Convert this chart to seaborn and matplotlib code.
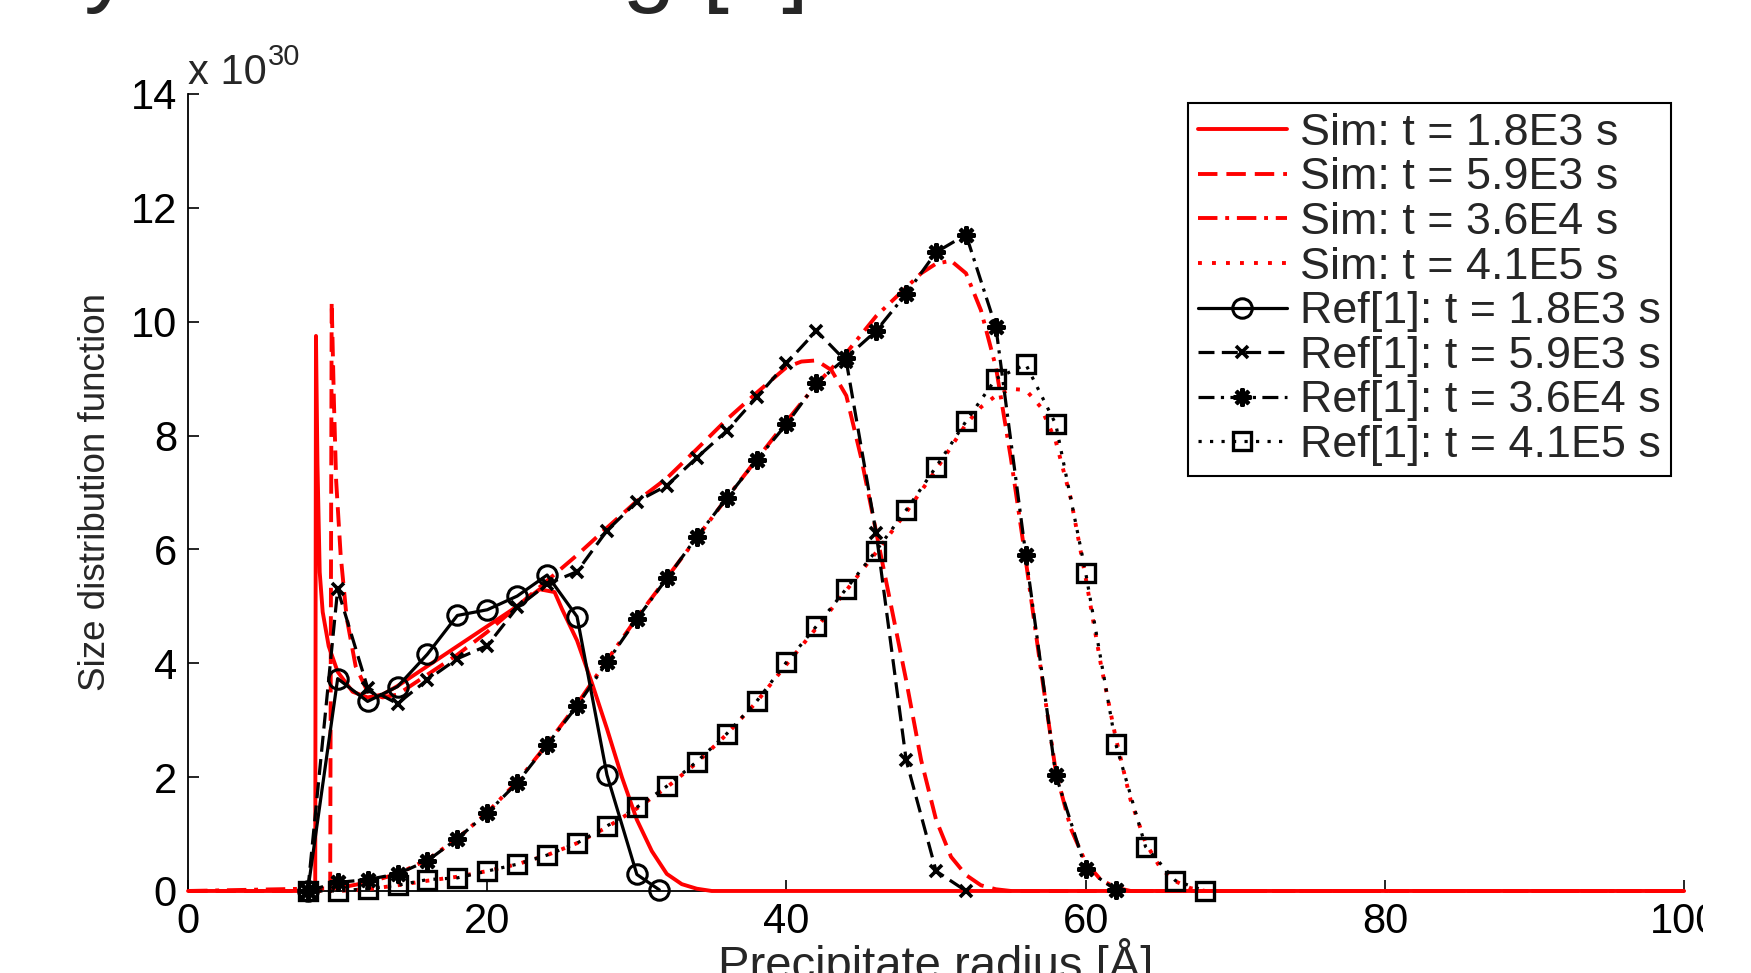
import numpy as np
import pandas as pd
import matplotlib
matplotlib.use("Agg")
import matplotlib.pyplot as plt
import seaborn as sns
from matplotlib.transforms import Bbox

# --- data (y in units of 1e30) ---
sim_x_18 = [0, 8.5, 8.55, 8.65, 8.8, 9.0, 9.4, 10, 11, 12, 13, 14, 16, 18, 20, 22, 23.5, 24.5, 25, 26,
            27, 28, 29, 30, 31, 32, 33, 34, 35, 100]
sim_y_18 = [0, 0, 9.75, 7.5, 5.6, 4.9, 4.3, 3.85, 3.5, 3.4, 3.45, 3.6, 3.95, 4.3, 4.65, 5.0, 5.3, 5.25, 4.95, 4.4,
            3.65, 2.85, 2.0, 1.25, 0.7, 0.3, 0.12, 0.04, 0, 0]

sim_x_59 = [0, 9.5, 9.6, 9.75, 9.9, 10.2, 10.6, 11.2, 12, 13, 14, 16, 18, 20, 22, 24, 26, 28, 30, 32,
            34, 36, 38, 40, 41, 42, 43, 44, 45, 46, 47, 48, 49, 50, 51, 52, 53, 54, 55, 100]
sim_y_59 = [0, 0, 10.35, 8.6, 7.2, 5.9, 4.8, 3.95, 3.5, 3.4, 3.45, 3.8, 4.15, 4.55, 5.0, 5.45, 5.9, 6.38, 6.85, 7.25,
            7.76, 8.28, 8.75, 9.2, 9.3, 9.32, 9.15, 8.7, 7.6, 6.3, 5.0, 3.7, 2.3, 1.25, 0.6, 0.28, 0.1, 0.03, 0, 0]

sim_x_36 = [0, 10, 12, 14, 16, 18, 20, 22, 24, 26, 28, 30, 32, 34, 36, 38, 40, 42, 44, 46,
            48, 49, 50, 51, 52, 53, 54, 55, 56, 57, 58, 59, 60, 61, 62, 63, 100]
sim_y_36 = [0, 0.05, 0.15, 0.3, 0.55, 0.92, 1.38, 1.92, 2.58, 3.28, 4.05, 4.8, 5.5, 6.2, 6.9, 7.58, 8.25, 8.9, 9.45, 10.1,
            10.6, 10.85, 11.02, 11.07, 10.85, 10.2, 9.2, 7.6, 5.8, 3.9, 2.1, 1.1, 0.5, 0.2, 0.06, 0, 0]

sim_x_41 = [0, 10, 12, 14, 16, 18, 20, 22, 24, 26, 28, 30, 32, 34, 36, 38, 40, 42, 44, 46,
            48, 50, 52, 53, 54, 55, 56, 57, 58, 59, 60, 61, 62, 63, 64, 65, 66, 67, 68, 100]
sim_y_41 = [0, 0, 0.03, 0.1, 0.18, 0.25, 0.35, 0.47, 0.63, 0.84, 1.12, 1.45, 1.82, 2.25, 2.75, 3.32, 3.98, 4.62, 5.28, 5.95,
            6.65, 7.4, 8.2, 8.5, 8.7, 8.82, 8.8, 8.5, 7.9, 6.9, 5.5, 4.0, 2.7, 1.6, 0.85, 0.4, 0.17, 0.05, 0, 0]

ref_x_18 = [8, 10, 12, 14, 16, 18, 20, 22, 24, 26, 28, 30, 31.5]
ref_y_18 = [0, 3.73, 3.33, 3.59, 4.16, 4.84, 4.94, 5.18, 5.55, 4.82, 2.04, 0.29, 0.02]

ref_x_59 = [8, 10, 12, 14, 16, 18, 20, 22, 24, 26, 28, 30, 32, 34, 36, 38, 40, 42, 44, 46, 48, 50, 52]
ref_y_59 = [0, 5.30, 3.57, 3.29, 3.71, 4.08, 4.31, 4.98, 5.39, 5.61, 6.33, 6.84, 7.12, 7.61, 8.08, 8.67,
            9.27, 9.84, 9.30, 6.28, 2.30, 0.35, 0.0]

ref_x_36 = [8, 10, 12, 14, 16, 18, 20, 22, 24, 26, 28, 30, 32, 34, 36, 38, 40, 42, 44, 46,
            48, 50, 52, 54, 56, 58, 60, 62]
ref_y_36 = [0, 0.15, 0.2, 0.3, 0.53, 0.92, 1.37, 1.9, 2.57, 3.25, 4.02, 4.78, 5.49, 6.22, 6.9, 7.57,
            8.2, 8.92, 9.37, 9.84, 10.49, 11.22, 11.53, 9.9, 5.9, 2.04, 0.39, 0.02]

ref_x_41 = [8, 10, 12, 14, 16, 18, 20, 22, 24, 26, 28, 30, 32, 34, 36, 38, 40, 42, 44, 46,
            48, 50, 52, 54, 56, 58, 60, 62, 64, 66, 68]
ref_y_41 = [0, 0, 0.04, 0.1, 0.2, 0.23, 0.35, 0.47, 0.63, 0.84, 1.14, 1.47, 1.84, 2.27, 2.76, 3.33,
            4.02, 4.65, 5.31, 5.98, 6.69, 7.45, 8.25, 9.0, 9.25, 8.2, 5.59, 2.59, 0.78, 0.18, 0]

times = ["1.8E3", "5.9E3", "3.6E4", "4.1E5"]
x_ticks = [0, 20, 40, 60, 80, 100]
y_ticks = [0, 2, 4, 6, 8, 10, 12, 14]

sns.set_theme(style="white")
plt.rcParams["font.family"] = ["Liberation Sans", "DejaVu Sans"]

fig = plt.figure(figsize=(17.51, 9.73), dpi=100)
ax = fig.add_axes([0.1074, 0.0843, 0.8544, 0.8191])

sim_series = [(sim_x_18, sim_y_18), (sim_x_59, sim_y_59), (sim_x_36, sim_y_36), (sim_x_41, sim_y_41)]
ref_series = [(ref_x_18, ref_y_18), (ref_x_59, ref_y_59), (ref_x_36, ref_y_36), (ref_x_41, ref_y_41)]

sim_styles = ["-", (0, (5, 2.3)), (0, (5, 2, 1, 2)), (0, (1, 2.6))]
ref_styles = [
    dict(linestyle="-", marker="o", markersize=14, markerfacecolor="none", markeredgewidth=2.2),
    dict(linestyle=(0, (5, 2.3)), marker="x", markersize=8, markeredgewidth=2.6),
    dict(linestyle=(0, (5, 2, 1, 2)), marker=(8, 2, 0), markersize=13, markeredgewidth=2.9),
    dict(linestyle=(0, (1, 2.6)), marker="s", markersize=13, markerfacecolor="none", markeredgewidth=2.4),
]

for (xs, ys), t, ls in zip(sim_series, times, sim_styles):
    df = pd.DataFrame({"r": xs, "f": ys})
    sns.lineplot(data=df, x="r", y="f", ax=ax, color="red", linewidth=2.8,
                 linestyle=ls, label=f"Sim: t = {t} s", clip_on=False)

for (xs, ys), t, st in zip(ref_series, times, ref_styles):
    df = pd.DataFrame({"r": xs, "f": ys})
    sns.lineplot(data=df, x="r", y="f", ax=ax, color="black", linewidth=2.3,
                 markeredgecolor="black", label=f"Ref[1]: t = {t} s", clip_on=False, **st)

ax.set_xlim(0, 100)
ax.set_ylim(0, 14)
ax.set_xticks(x_ticks)
ax.set_yticks(y_ticks)
ax.set_xticklabels([str(v) for v in x_ticks])
ax.set_yticklabels([str(v) for v in y_ticks])
ax.tick_params(direction="in", length=8, width=1.2, labelsize=30, pad=8, colors="black",
               bottom=True, left=True, top=False, right=False)

for side in ["top", "right"]:
    ax.spines[side].set_visible(False)
for side in ["left", "bottom"]:
    ax.spines[side].set_color("black")
    ax.spines[side].set_linewidth(1.3)
    ax.spines[side].set_zorder(0.5)

ax.set_xlabel("Precipitate radius [Å]", fontsize=34, va="top")
ax.xaxis.set_label_coords(0.5, -0.059)
ax.set_ylabel("Size distribution function", fontsize=26.5)
ax.yaxis.set_label_coords(-0.05, 0.5)

# exponent label like MATLAB
ax.text(0.0, 1.0125, "x 10", transform=ax.transAxes, fontsize=30,
        ha="left", va="baseline")
ax.text(0.0535, 1.0364, "30", transform=ax.transAxes, fontsize=21,
        ha="left", va="baseline")

# slide title, cut off at the top edge
fig.text(-0.097, 1.006, "Validity of modelling [1]", fontsize=69,
         ha="left", va="baseline")

leg = ax.legend(loc="upper right", bbox_to_anchor=(0.9913, 0.9887), borderaxespad=0,
                frameon=True, fancybox=False, edgecolor="black", framealpha=1,
                fontsize=32.3, labelspacing=0.08, handlelength=1.98, handletextpad=0.3,
                borderpad=0.22, numpoints=1)
leg.get_frame().set_linewidth(1.5)

# screenshot is cut just after the "10" of the last tick label
for lbl in ax.get_xticklabels():
    lbl.set_clip_box(Bbox.from_extents(0, 0, 1703, 973))
    lbl.set_clip_on(True)

fig.savefig("out.png", dpi=100)
